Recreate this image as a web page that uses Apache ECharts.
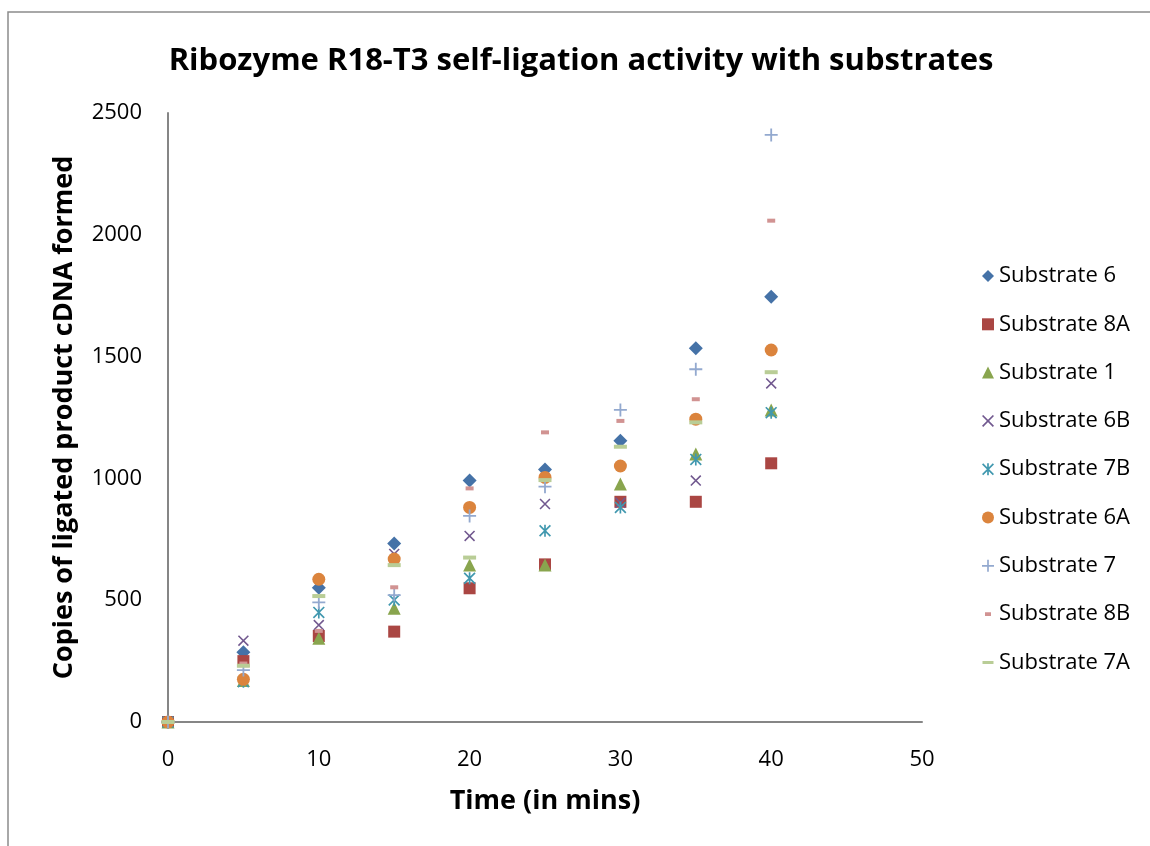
<!DOCTYPE html>
<html>
<head>
<meta charset="utf-8">
<script src="https://cdn.jsdelivr.net/npm/echarts@6/dist/echarts.min.js"></script>
<style>
  html, body { margin: 0; padding: 0; background: #ffffff; }
  #chart { width: 1150px; height: 846px; }
</style>
</head>
<body>
<div id="chart"></div>
<script>
// time points (mins)
const times = [0, 5, 10, 15, 20, 25, 30, 35, 40];

// copies of ligated product
const sub6 = [0, 286, 551, 733, 991, 1037, 1155, 1534, 1746];
const sub8A = [0, 250, 353, 371, 549, 647, 904, 904, 1062];
const sub1 = [0, 170, 344, 467, 645, 645, 977, 1100, 1281];
const sub6B = [0, 334, 398, 690, 764, 895, 900, 991, 1390];
const sub7B = [0, 165, 450, 501, 590, 785, 881, 1078, 1270];
const sub6A = [0, 175, 586, 669, 881, 1004, 1051, 1243, 1527];
const sub7 = [0, 213, 491, 521, 846, 966, 1281, 1448, 2410];
const sub8B = [0, 240, 374, 553, 959, 1189, 1236, 1325, 2058];
const sub7A = [0, 231, 517, 644, 675, 993, 1130, 1230, 1436];

const xTicks = [0, 10, 20, 30, 40, 50];
const yTicks = [0, 500, 1000, 1500, 2000, 2500];

const FONT = "'Open Sans', sans-serif";

// marker shapes that echarts doesn't have built in
const xShape = "path://M0,1 L1,0 L10,9 L9,10 Z M9,0 L10,1 L1,10 L0,9 Z";
const starShape = "path://M0,1 L1,0 L10,9 L9,10 Z M9,0 L10,1 L1,10 L0,9 Z M4.3,0 L5.7,0 L5.7,10 L4.3,10 Z";
const plusShape = "path://M4.3,0 L5.7,0 L5.7,4.3 L10,4.3 L10,5.7 L5.7,5.7 L5.7,10 L4.3,10 L4.3,5.7 L0,5.7 L0,4.3 L4.3,4.3 Z";
const shortDash = "path://M0,0 L8,0 L8,4 L0,4 Z";
const longDash = "path://M0,0 L13,0 L13,3.6 L0,3.6 Z";
// legend versions of the dashes, padded out with empty corners so they stay small
const shortDashIcon = "path://M0,0 L0.01,0 Z M12,12 L12.01,12 Z M3,4.2 L9,4.2 L9,7.8 L3,7.8 Z";
const longDashIcon = "path://M0,0 L0.01,0 Z M12,12 L12.01,12 Z M0.5,4.5 L11.5,4.5 L11.5,7.5 L0.5,7.5 Z";

function pairs(vals) {
  return times.map((t, i) => [t, vals[i]]);
}

function scatter(name, vals, color, symbol, size) {
  return {
    name: name,
    type: "scatter",
    symbol: symbol,
    symbolSize: size,
    itemStyle: { color: color, opacity: 1 },
    emphasis: { disabled: true },
    data: pairs(vals),
  };
}

let option = {
  animation: false,
  backgroundColor: "#ffffff",
  title: {
    text: "Ribozyme R18-T3 self-ligation activity with substrates",
    left: 576,
    textAlign: "center",
    top: 41,
    textStyle: {
      fontFamily: FONT,
      fontWeight: "bold",
      fontSize: 31,
      color: "#000000",
    },
  },
  graphic: [
    {
      type: "rect",
      shape: { x: 8, y: 12, width: 1200, height: 900 },
      style: { fill: "none", stroke: "#8c8c8c", lineWidth: 1.5 },
      silent: true,
    },
  ],
  legend: {
    orient: "vertical",
    left: 977,
    top: 260,
    itemWidth: 12,
    itemHeight: 12,
    itemGap: 26.3,
    data: [
      { name: "Substrate 6" },
      { name: "Substrate 8A" },
      { name: "Substrate 1" },
      { name: "Substrate 6B" },
      { name: "Substrate 7B" },
      { name: "Substrate 6A" },
      { name: "Substrate 7" },
      { name: "Substrate 8B", icon: shortDashIcon },
      { name: "Substrate 7A", icon: longDashIcon },
    ],
    textStyle: {
      fontFamily: FONT,
      fontSize: 22,
      lineHeight: 20,
      color: "#000000",
    },
  },
  grid: {
    left: 168,
    right: 228,
    top: 113,
    bottom: 124,
    containLabel: false,
  },
  xAxis: {
    type: "value",
    min: xTicks[0],
    max: xTicks[xTicks.length - 1],
    interval: 10,
    name: "Time (in mins)",
    nameLocation: "middle",
    nameGap: 66,
    nameTextStyle: {
      fontFamily: FONT,
      fontWeight: "bold",
      fontSize: 27,
      color: "#000000",
    },
    axisLine: { lineStyle: { color: "#868686", width: 2 } },
    axisTick: { show: false },
    splitLine: { show: false },
    axisLabel: {
      fontFamily: FONT,
      fontSize: 22,
      color: "#000000",
      margin: 27,
    },
  },
  yAxis: {
    type: "value",
    min: yTicks[0],
    max: yTicks[yTicks.length - 1],
    interval: 500,
    name: "Copies of ligated product cDNA formed",
    nameLocation: "middle",
    nameGap: 90,
    nameTextStyle: {
      fontFamily: FONT,
      fontWeight: "bold",
      fontSize: 27,
      color: "#000000",
    },
    axisLine: { show: true, lineStyle: { color: "#868686", width: 2 } },
    axisTick: { show: false },
    splitLine: { show: false },
    axisLabel: {
      fontFamily: FONT,
      fontSize: 22,
      color: "#000000",
      margin: 26,
      formatter: (v) => String(v),
    },
  },
  series: [
    scatter("Substrate 6", sub6, "#4572A7", "diamond", 14),
    scatter("Substrate 8A", sub8A, "#AA4643", "rect", 12),
    scatter("Substrate 1", sub1, "#89A54E", "triangle", 13),
    scatter("Substrate 6B", sub6B, "#71588F", xShape, 11),
    scatter("Substrate 7B", sub7B, "#4198AF", starShape, 12),
    scatter("Substrate 6A", sub6A, "#DB843D", "circle", 13),
    scatter("Substrate 7", sub7, "#93A9CF", plusShape, 13),
    scatter("Substrate 8B", sub8B, "#D19392", shortDash, [8, 4]),
    scatter("Substrate 7A", sub7A, "#B9CD96", longDash, [13, 4]),
  ],
};

let myChart = echarts.init(document.getElementById("chart"));
myChart.setOption(option);
</script>
</body>
</html>
